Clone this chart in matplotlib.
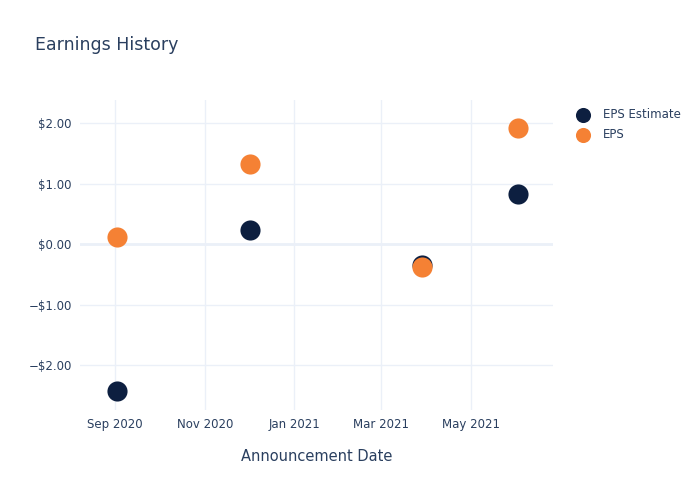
import matplotlib
matplotlib.use("Agg")
import matplotlib.pyplot as plt
import matplotlib.dates as mdates
from matplotlib.ticker import FuncFormatter
from datetime import datetime

# data
dates = ["2020-09-02", "2020-12-02", "2021-03-29", "2021-06-02"]
eps_estimate = [-2.43, 0.23, -0.35, 0.83]
eps_actual = [0.12, 1.32, -0.38, 1.92]

navy = "#0d1f40"
orange = "#f58134"
text_col = "#2a3f5f"
grid_col = "#ebf0f8"

x = [datetime.strptime(d, "%Y-%m-%d") for d in dates]

fig = plt.figure(figsize=(7, 5), dpi=100)
ax = fig.add_axes([0.1143, 0.18, 0.6757, 0.62])

ax.scatter(x, eps_estimate, s=210, color=navy, label="EPS Estimate", zorder=3, linewidths=0)
ax.scatter(x, eps_actual, s=210, color=orange, label="EPS", zorder=4, linewidths=0)

ax.set_xlim(datetime(2020, 8, 8), datetime(2021, 6, 26))
ax.set_ylim(-2.74, 2.38)

ax.xaxis.set_major_locator(mdates.MonthLocator(bymonth=[1, 3, 5, 7, 9, 11]))
ax.xaxis.set_major_formatter(mdates.DateFormatter("%b %Y"))
ax.set_yticks([-2, -1, 0, 1, 2])


def money(v, pos):
    if v < 0:
        return "\u2212${:.2f}".format(-v)
    return "${:.2f}".format(v)


ax.yaxis.set_major_formatter(FuncFormatter(money))

ax.grid(True, color=grid_col, linewidth=1)
ax.axhline(0, color=grid_col, linewidth=2, zorder=1)
ax.set_axisbelow(True)
for s in ax.spines.values():
    s.set_visible(False)
ax.tick_params(length=0, colors=text_col, labelsize=8.5, pad=6)

ax.set_xlabel("Announcement Date", color=text_col, fontsize=10.5, labelpad=13)
fig.text(0.05, 0.9, "Earnings History", color=text_col, fontsize=12.5)

leg = ax.legend(loc="upper left", bbox_to_anchor=(1.015, 1.008), frameon=False,
                fontsize=8.5, handletextpad=0.7, labelspacing=0.6, markerscale=0.75)
for t in leg.get_texts():
    t.set_color(text_col)

fig.savefig("out.png", dpi=100)
